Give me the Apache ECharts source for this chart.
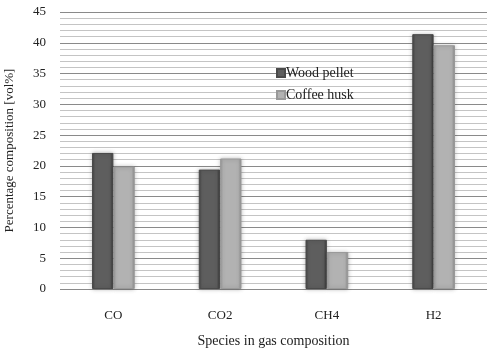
<!DOCTYPE html>
<html>
<head>
<meta charset="utf-8">
<script src="https://cdn.jsdelivr.net/npm/echarts@6/dist/echarts.min.js"></script>
<style>
  html, body { margin: 0; padding: 0; background: #fff; }
  #echart1 { width: 488px; height: 351px; }
</style>
</head>
<body>
<div id="echart1"></div>
<script>
var categories = ['CO', 'CO2', 'CH4', 'H2'];
var woodPellet = [22.1, 19.4, 8.0, 41.4];
var coffeeHusk = [19.9, 21.2, 6.0, 39.6];

function barColor(c1, c2, c3) {
    return new echarts.graphic.LinearGradient(0, 0, 1, 0, [
        { offset: 0, color: c1 },
        { offset: 0.15, color: c2 },
        { offset: 0.85, color: c2 },
        { offset: 1, color: c3 }
    ]);
}

var myChart = echarts.init(document.getElementById('echart1'));
var font = '"Liberation Serif", "DejaVu Serif", serif';

var option = {
    animation: false,
    backgroundColor: '#fff',
    legend: {
        orient: 'vertical',
        left: 271,
        top: 61,
        itemWidth: 8,
        itemHeight: 8,
        itemGap: 8,
        icon: 'rect',
        data: ['Wood pellet', 'Coffee husk'],
        textStyle: { color: '#222', fontSize: 14, fontFamily: font, padding: [0, 0, 0, -4] }
    },
    grid: { left: 60, right: 1, top: 12, bottom: 62, outerBoundsMode: 'none', containLabel: false },
    xAxis: {
        type: 'category',
        data: categories,
        name: 'Species in gas composition',
        nameLocation: 'center',
        nameGap: 45,
        nameTextStyle: { color: '#222', fontSize: 14, fontFamily: font },
        axisLine: { show: false },
        axisTick: { show: false },
        axisLabel: { color: '#222', fontSize: 13, fontFamily: font, margin: 20 }
    },
    yAxis: {
        type: 'value',
        min: 0,
        max: 45,
        interval: 5,
        name: 'Percentage composition [vol%]',
        nameLocation: 'center',
        nameGap: 44,
        nameRotate: 90,
        nameTextStyle: { color: '#222', fontSize: 13, fontFamily: font },
        axisLine: { show: false },
        axisTick: { show: false },
        axisLabel: { color: '#222', fontSize: 13, fontFamily: font, margin: 14 },
        splitLine: { lineStyle: { color: '#8a8a8a', width: 1 } },
        minorTick: { show: false, splitNumber: 5 },
        minorSplitLine: { show: true, lineStyle: { color: '#c4c4c4', width: 1 } }
    },
    series: [
        {
            name: 'Wood pellet',
            type: 'bar',
            data: woodPellet,
            barWidth: '20%',
            barGap: '0%',
            itemStyle: {
                color: barColor('#444', '#5e5e5e', '#3c3c3c'),
                borderColor: '#4a4a4a',
                borderWidth: 1,
                shadowBlur: 4,
                shadowColor: 'rgba(0,0,0,0.25)'
            }
        },
        {
            name: 'Coffee husk',
            type: 'bar',
            data: coffeeHusk,
            barWidth: '20%',
            itemStyle: {
                color: barColor('#9a9a9a', '#b2b2b2', '#8e8e8e'),
                borderColor: '#999',
                borderWidth: 1,
                shadowBlur: 4,
                shadowColor: 'rgba(0,0,0,0.25)'
            }
        }
    ]
};

myChart.setOption(option);
window.addEventListener('resize', function () {
    myChart.resize();
});
</script>
</body>
</html>
